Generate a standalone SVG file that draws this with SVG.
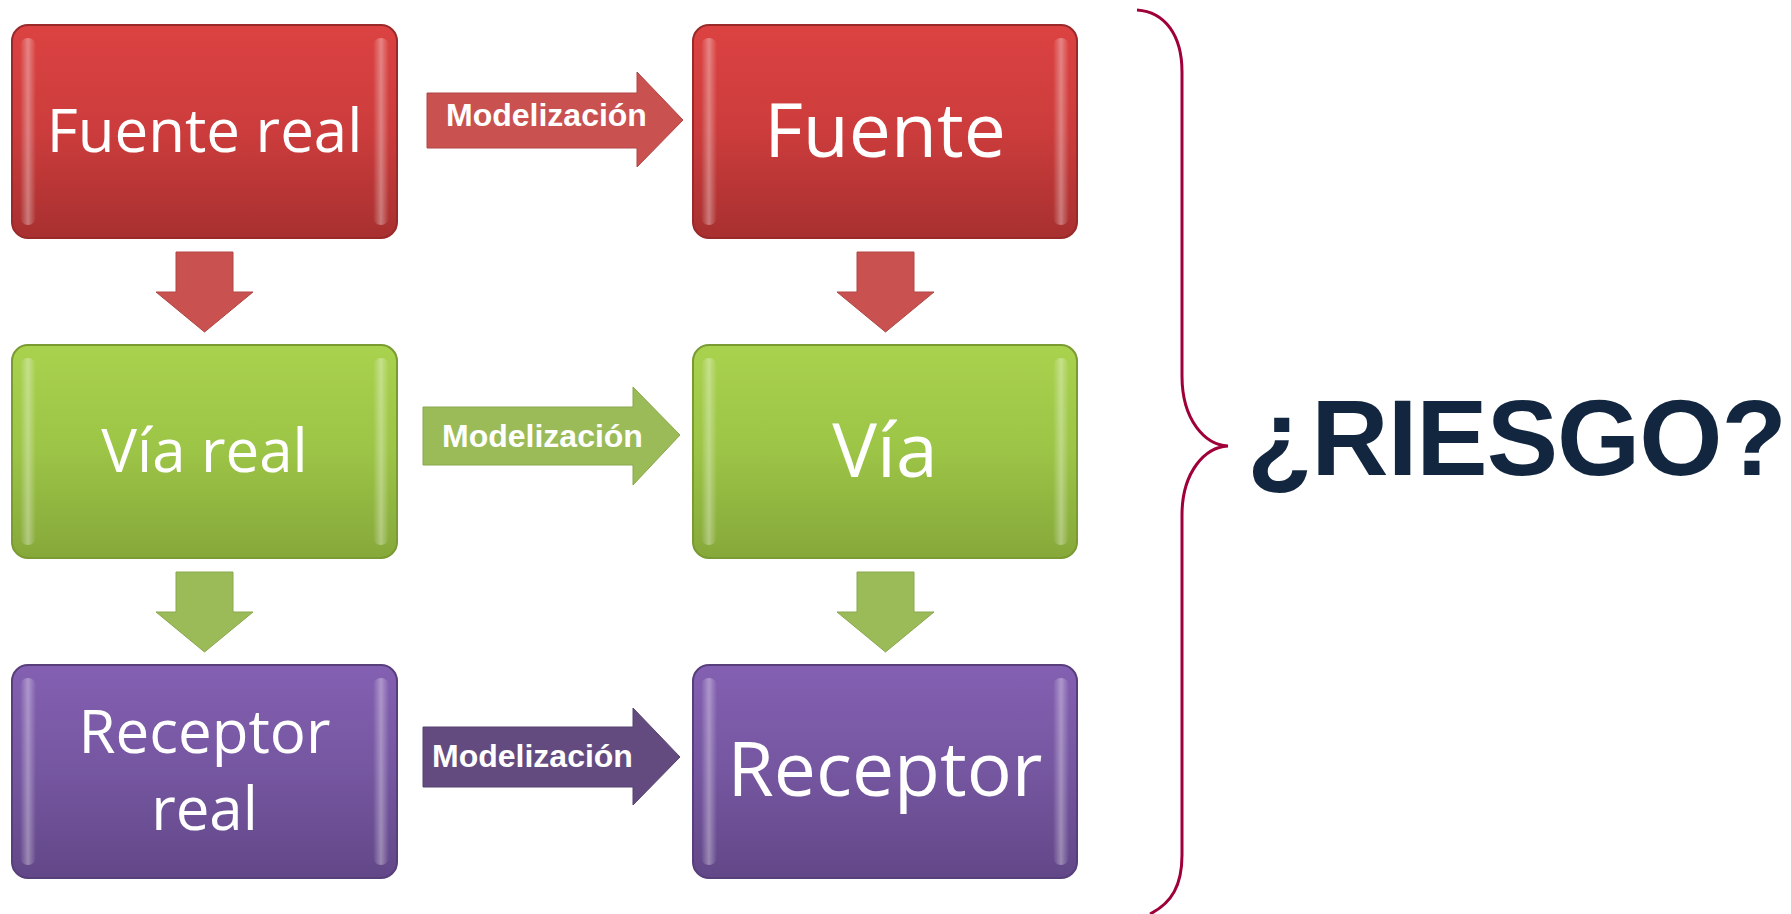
<svg xmlns="http://www.w3.org/2000/svg" width="1791" height="914" viewBox="0 0 1791 914">
<defs>
<linearGradient id="gRed" x1="0" y1="0" x2="0" y2="1">
<stop offset="0" stop-color="#dc4242"/><stop offset="0.5" stop-color="#cc3c3c"/><stop offset="1" stop-color="#a83030"/>
</linearGradient>
<linearGradient id="gGreen" x1="0" y1="0" x2="0" y2="1">
<stop offset="0" stop-color="#a9d24e"/><stop offset="0.5" stop-color="#9cc446"/><stop offset="1" stop-color="#86a83a"/>
</linearGradient>
<linearGradient id="gPurple" x1="0" y1="0" x2="0" y2="1">
<stop offset="0" stop-color="#8460b2"/><stop offset="0.5" stop-color="#7556a0"/><stop offset="1" stop-color="#624788"/>
</linearGradient>
<linearGradient id="gHi" x1="0" y1="0" x2="1" y2="0">
<stop offset="0" stop-color="#fff" stop-opacity="0"/><stop offset="0.5" stop-color="#fff" stop-opacity="0.35"/><stop offset="1" stop-color="#fff" stop-opacity="0"/>
</linearGradient>
</defs>
<style>
.box{stroke-width:2}
.red{fill:url(#gRed);stroke:#9a2a2a}
.green{fill:url(#gGreen);stroke:#7a9a32}
.purple{fill:url(#gPurple);stroke:#583f7c}
.hi{fill:url(#gHi)}
.big{font-family:"Open Sans","Noto Sans",sans-serif;fill:#fff;text-anchor:middle}
.lbl{font-family:"Liberation Sans",Arial,sans-serif;font-weight:bold;font-size:32px;fill:#fff}
.riesgo{font-family:"Liberation Sans",Arial,sans-serif;font-weight:bold;font-size:107px;fill:#12263f;letter-spacing:-1px}
</style>
<rect width="1791" height="914" fill="#fff"/>

<g id="connectors">
<polygon points="427,93 637,93 637,72 683,120 637,167 637,148 427,148" fill="#c9514f" stroke="#b04644" stroke-width="1"/>
<text class="lbl" x="446" y="126">Modelización</text>
<polygon points="423,407 633,407 633,387 680,435 633,485 633,465 423,465" fill="#9bbb59" stroke="#8aa84c" stroke-width="1"/>
<text class="lbl" x="442" y="447">Modelización</text>
<polygon points="423,727 633,727 633,708 680,757 633,805 633,787 423,787" fill="#634b80" stroke="#574270" stroke-width="1"/>
<text class="lbl" x="432" y="767">Modelización</text>
<polygon points="176,252 233,252 233,292 253,292 204.5,332 156,292 176,292" fill="#c9514f" stroke="#b04644" stroke-width="1"/>
<polygon points="857,252 914,252 914,292 934,292 885.5,332 837,292 857,292" fill="#c9514f" stroke="#b04644" stroke-width="1"/>
<polygon points="176,572 233,572 233,612 253,612 204.5,652 156,612 176,612" fill="#9bbb59" stroke="#8aa84c" stroke-width="1"/>
<polygon points="857,572 914,572 914,612 934,612 885.5,652 837,612 857,612" fill="#9bbb59" stroke="#8aa84c" stroke-width="1"/>
</g>

<g id="fuente-real">
<rect class="box red" x="12" y="25" width="385" height="213" rx="16"/>
<rect class="hi" x="20" y="38" width="16" height="187" rx="8"/>
<rect class="hi" x="373" y="38" width="16" height="187" rx="8"/>
<text class="big" x="204.5" y="152" font-size="60">Fuente real</text>
</g>
<g id="fuente">
<rect class="box red" x="693" y="25" width="384" height="213" rx="16"/>
<rect class="hi" x="701" y="38" width="16" height="187" rx="8"/>
<rect class="hi" x="1053" y="38" width="16" height="187" rx="8"/>
<text class="big" x="885" y="157" font-size="75">Fuente</text>
</g>
<g id="via-real">
<rect class="box green" x="12" y="345" width="385" height="213" rx="16"/>
<rect class="hi" x="20" y="358" width="16" height="187" rx="8"/>
<rect class="hi" x="373" y="358" width="16" height="187" rx="8"/>
<text class="big" x="204.5" y="472" font-size="60">Vía real</text>
</g>
<g id="via">
<rect class="box green" x="693" y="345" width="384" height="213" rx="16"/>
<rect class="hi" x="701" y="358" width="16" height="187" rx="8"/>
<rect class="hi" x="1053" y="358" width="16" height="187" rx="8"/>
<text class="big" x="885" y="477" font-size="75">Vía</text>
</g>
<g id="receptor-real">
<rect class="box purple" x="12" y="665" width="385" height="213" rx="16"/>
<rect class="hi" x="20" y="678" width="16" height="187" rx="8"/>
<rect class="hi" x="373" y="678" width="16" height="187" rx="8"/>
<text class="big" x="204.5" y="753" font-size="60">Receptor</text>
<text class="big" x="204.5" y="830" font-size="60">real</text>
</g>
<g id="receptor">
<rect class="box purple" x="693" y="665" width="384" height="213" rx="16"/>
<rect class="hi" x="701" y="678" width="16" height="187" rx="8"/>
<rect class="hi" x="1053" y="678" width="16" height="187" rx="8"/>
<text class="big" x="885" y="796" font-size="75">Receptor</text>
</g>

<g id="riesgo">
<path d="M1137,10 C1165,12 1182,35 1182,72 L1182,376 C1182,420 1205,445 1228,446 C1205,447 1182,472 1182,515 L1182,855 C1182,885 1172,903 1150,914" fill="none" stroke="#a0003a" stroke-width="3"/>
<text class="riesgo" x="1247" y="475">¿RIESGO?</text>
</g>
</svg>
